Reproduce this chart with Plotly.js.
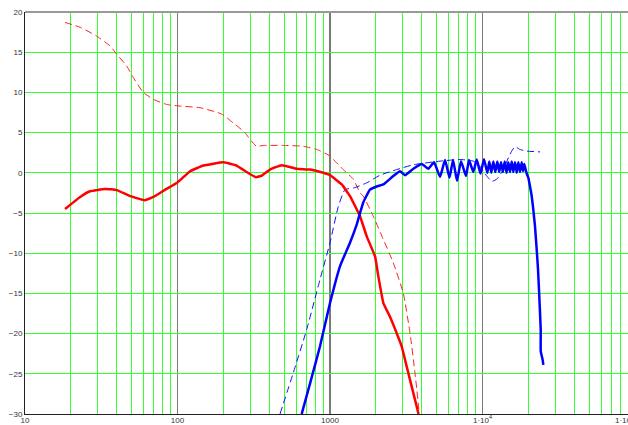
<!DOCTYPE html>
<html>
<head>
<meta charset="utf-8">
<script src="https://cdn.plot.ly/plotly-3.0.1.min.js"></script>
<style>html,body{margin:0;padding:0;background:#fff;}#chart{width:628px;height:425px;}</style>
</head>
<body>
<div id="chart"></div>
<script>
// Red solid (woofer response)
const redSolidF = [18.3, 23, 26.7, 33.5, 40, 49, 61, 71, 83, 100, 121, 148, 200, 244, 284, 327, 357, 404, 482, 605, 740, 904, 1000, 1194, 1352, 1573, 1741, 1974, 2075, 2238, 2474, 2737, 2951, 3184, 3434, 3705, 3805];
const redSolidV = [-4.5, -3.0, -2.3, -2.0, -2.15, -2.9, -3.4, -2.9, -2.1, -1.2, 0.2, 0.9, 1.3, 0.9, 0.1, -0.55, -0.35, 0.4, 0.95, 0.5, 0.4, 0.0, -0.3, -1.45, -2.9, -5.4, -7.9, -10.4, -12.9, -16.2, -17.9, -19.95, -21.6, -24.1, -26.6, -29.1, -30];

// Red dashed
const redDashF = [18.3, 23, 29.5, 36, 39.9, 46.4, 51.3, 59.7, 69.4, 84.9, 103.8, 140.5, 195, 232, 277, 299, 330, 365, 494, 668, 818, 1000, 1052, 1222, 1287, 1423, 1573, 1652, 1923, 2238, 2600, 3025, 3350, 3608, 3855];
const redDashV = [18.7, 18.1, 17.0, 15.8, 14.75, 13.3, 11.85, 10.0, 9.15, 8.5, 8.3, 8.1, 7.3, 6.2, 5.0, 4.15, 3.3, 3.4, 3.4, 3.3, 2.9, 2.1, 1.66, 0.4, 0.0, -0.8, -2.5, -2.9, -5.4, -8.3, -11.2, -15, -20, -24.9, -30];

// Blue solid (tweeter response)
const blueSolidF = [652, 740, 859, 1000, 1164, 1352, 1496, 1652, 1829, 2023, 2238, 2600, 2877, 3103, 3519, 3993, 4412, 4808, 5263, 5678, 6075, 6407, 6805, 7228, 7795, 8156, 8703, 9163, 9703, 10228, 10752, 11081, 11421, 11771, 12132, 12504, 12869, 13223, 13587, 13984, 14370, 14766, 15148, 15543, 15923, 16334, 16760, 17170, 17620, 18072, 18435, 18793, 19285, 19670, 19970, 20490, 21020, 21540, 22100, 22670, 23120, 23650, 24080, 24100, 24820, 25040];
const blueSolidV = [-30, -26.2, -21.6, -16.2, -11.6, -8.7, -6.45, -3.7, -2.1, -1.7, -1.45, -0.4, 0.2, -0.3, 0.5, 1.1, 0.5, 1.3, -0.5, 1.6, -0.6, 1.6, -1.0, 1.45, -0.4, 1.6, 0.1, 1.65, -0.1, 1.7, 0.0, 1.4, 0.0, 1.4, 0.1, 1.4, 0.1, 1.3, 0.1, 1.4, 0.0, 1.3, 0.1, 1.4, 0.1, 1.3, 0.0, 1.3, 0.1, 1.3, 0.2, 1.1, 0.2, -0.3, -0.6, -1.7, -2.9, -4.6, -6.7, -9.6, -12, -16, -19.5, -22.2, -23.3, -23.9];

// Blue dashed
const blueDashF = [470, 574, 703, 859, 1000, 1133, 1254, 1423, 1741, 2128, 2737, 3519, 5263, 7118, 8704, 9636, 10660, 11490, 12390, 13690, 15130, 16320, 17610, 19500, 23830];
const blueDashV = [-30, -24.9, -19.5, -13.3, -8.7, -4.2, -2.1, -1.9, -1.25, -0.3, 0.4, 1.0, 1.45, 1.65, 1.45, 0.8, -0.4, -1.05, -0.8, 0.4, 2.3, 3.25, 2.9, 2.7, 2.6];

// Tick labels
const xTickVals = [10, 100, 1000, 10000];
const xTickText = ['10', '100', '1000', '1·10<sup>4</sup>'];
const yTickVals = [-30, -25, -20, -15, -10, -5, 0, 5, 10, 15, 20];

const traces = [
  {x: redDashF, y: redDashV, mode: 'lines', line: {color: '#ff2020', width: 1, dash: '7px,4px', shape: 'spline', smoothing: 0.5}},
  {x: blueDashF, y: blueDashV, mode: 'lines', line: {color: '#1010ff', width: 1, dash: '7px,4px', shape: 'spline', smoothing: 0.5}},
  {x: redSolidF, y: redSolidV, mode: 'lines', line: {color: '#ff0000', width: 2.5, shape: 'spline', smoothing: 0.3}},
  {x: blueSolidF, y: blueSolidV, mode: 'lines', line: {color: '#0000ff', width: 2.5, shape: 'spline', smoothing: 0.4}}
];

const font = {family: 'Liberation Sans, Arial, sans-serif', size: 8, color: '#333'};

const layout = {
  width: 628, height: 425,
  margin: {l: 25, r: 0, t: 12, b: 11, pad: 0},
  paper_bgcolor: '#fff', plot_bgcolor: '#fff',
  showlegend: false,
  font: font,
  xaxis: {
    type: 'log', range: [1, 4.954],
    tickvals: xTickVals, ticktext: xTickText,
    showgrid: true, gridcolor: '#7a7a7a', gridwidth: 1.5,
    minor: {dtick: 'D1', showgrid: true, gridcolor: '#33ff33', gridwidth: 1, ticks: ''},
    showline: true, linecolor: '#222', linewidth: 1,
    ticks: '', ticklabelstandoff: -2, zeroline: false, tickfont: font, fixedrange: true
  },
  yaxis: {
    range: [-30, 20], tickvals: yTickVals,
    showgrid: true, gridcolor: '#33ff33', gridwidth: 1,
    showline: true, linecolor: '#222', linewidth: 1,
    ticks: '', zeroline: false, tickfont: font, fixedrange: true
  },
  shapes: [
    {type: 'line', xref: 'paper', yref: 'paper', x0: 0, x1: 1, y0: 1, y1: 1, line: {color: '#999', width: 2}, layer: 'above'}
  ],
  annotations: [
    {xref: 'paper', yref: 'paper', x: 0.975, y: 0, xanchor: 'left', yanchor: 'top', yshift: 1, showarrow: false, text: '1·10<sup>5</sup>', font: font}
  ]
};

Plotly.newPlot('chart', traces, layout, {staticPlot: true, displayModeBar: false});
</script>
</body>
</html>
